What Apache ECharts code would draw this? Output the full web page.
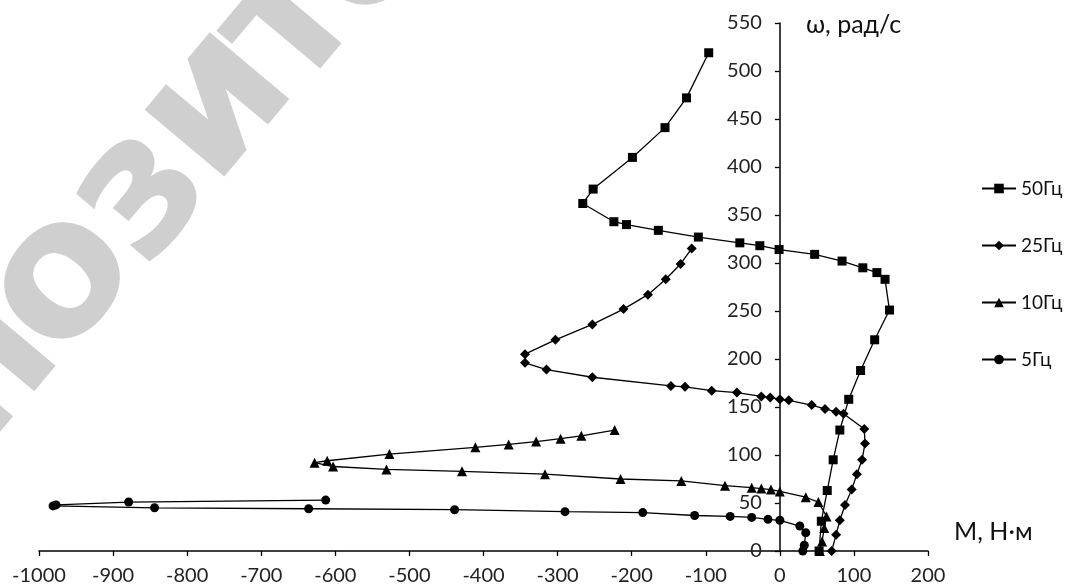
<!DOCTYPE html>
<html><head><meta charset="utf-8">
<script src="https://cdn.jsdelivr.net/npm/echarts@6/dist/echarts.min.js"></script>
<style>html,body{margin:0;padding:0;background:#fff}#c{width:1068px;height:587px}</style>
</head><body><div id="c"></div>
<script>
var xTicks = [-1000,-900,-800,-700,-600,-500,-400,-300,-200,-100,0,100,200];
var yTicks = [0,50,100,150,200,250,300,350,400,450,500,550];
var seriesNames = ['50Гц','25Гц','10Гц','5Гц'];

var torque50 = [53,56,64,72,81,93,109,128,148,142,131,112,84,47,-1,-27,-54,-110,-164,-207,-224,-266,-252,-199,-155,-126,-96];
var omega50  = [0,31,63,95,126,158,188,220,251,283,290,295,302,309,314,318,321,327,334,340,343,362,377,410,441,472,519];

var torque25 = [70,76,81,88,97,104,111,115,114,86,76,61,43,12,0,-13,-25,-58,-92,-128,-147,-253,-315,-344,-344,-303,-253,-211,-178,-154,-134,-119];
var omega25  = [0,17,32,48,64,80,95,112,127,143,145,148,152,157,158,160,161,165,167,171,172,181,189,196,205,220,236,252,267,283,299,315];

var torque10 = [54,57,60,63,52,35,0,-12,-25,-38,-74,-133,-215,-317,-429,-531,-603,-628,-611,-527,-411,-366,-329,-296,-268,-223];
var omega10  = [0,10,24,36,51,56,62,64,65,66,68,73,75,80,83,85,88,92,94,101,108,111,114,117,120,126];

var torque5 = [31,33,35,27,0,-16,-38,-67,-115,-185,-290,-439,-636,-844,-981,-977,-879,-613];
var omega5  = [0,6,19,26,32,33,35,36,37,40,41,43,44,45,47,48,51,53];

function zip(a,b){var r=[];for(var i=0;i<a.length;i++)r.push([a[i],b[i]]);return r;}

var FONT = 'Lato, "Open Sans", sans-serif';
var GRID = {left:39,right:140,top:23,bottom:36};
var W = 1068, H = 587;
var xMin = xTicks[0], xMax = xTicks[xTicks.length-1];
var plotW = W - GRID.left - GRID.right;
var yAxisOffset = -plotW * (0 - xMin) / (xMax - xMin);

function mk(name, xs, ys, sym, size){
  return {name:name,type:'line',data:zip(xs,ys),symbol:sym,symbolSize:size,showSymbol:true,
    lineStyle:{color:'#000',width:1.3},itemStyle:{color:'#000'},z:5,animation:false};
}

var wmLetters = [
  {t:'п',x:-14,y:372},{t:'о',x:64,y:282},{t:'з',x:143,y:196},{t:'и',x:219,y:106},{t:'т',x:293,y:24},{t:'о',x:368,y:-52}
];
var graphics = wmLetters.map(function(l){
  return {type:'text',x:l.x,y:l.y,rotation:50*Math.PI/180,z:-10,silent:true,
    style:{text:l.t,font:'bold 190px "DejaVu Sans"',fill:'#cfcfcf',align:'center',verticalAlign:'middle'}};
});
graphics.push({type:'text',left:806,top:12,style:{text:'ω, рад/с',font:'25px '+FONT,fill:'#111'}});
graphics.push({type:'text',left:954,top:519,style:{text:'М, Н·м',font:'25px '+FONT,fill:'#111'}});

var chart = echarts.init(document.getElementById('c'));
chart.setOption({
  animation:false,
  backgroundColor:'#fff',
  grid:{left:GRID.left,right:GRID.right,top:GRID.top,bottom:GRID.bottom,containLabel:false},
  xAxis:{type:'value',min:xMin,max:xMax,interval:100,
    axisLine:{onZero:false,lineStyle:{color:'#000',width:1.5}},
    axisTick:{show:true,length:5,lineStyle:{color:'#000',width:1.3}},
    axisLabel:{fontSize:20,fontFamily:FONT,color:'#222',margin:15,formatter:function(v){return String(v);}},
    splitLine:{show:false}},
  yAxis:{type:'value',position:'left',offset:yAxisOffset,min:yTicks[0],max:yTicks[yTicks.length-1],interval:50,
    axisLine:{onZero:false,lineStyle:{color:'#000',width:1.5}},
    axisTick:{show:true,length:5,lineStyle:{color:'#000',width:1.3}},
    axisLabel:{fontSize:20,fontFamily:FONT,color:'#222',margin:18},
    splitLine:{show:false}},
  legend:{orient:'vertical',left:976,top:174,itemWidth:34,itemHeight:12,itemGap:38,
    textStyle:{fontSize:19,fontFamily:FONT,color:'#111'},data:seriesNames},
  graphic:graphics,
  series:[
    mk(seriesNames[0],torque50,omega50,'rect',9),
    mk(seriesNames[1],torque25,omega25,'diamond',10),
    mk(seriesNames[2],torque10,omega10,'triangle',10),
    mk(seriesNames[3],torque5,omega5,'circle',9)
  ]
});
</script></body></html>
